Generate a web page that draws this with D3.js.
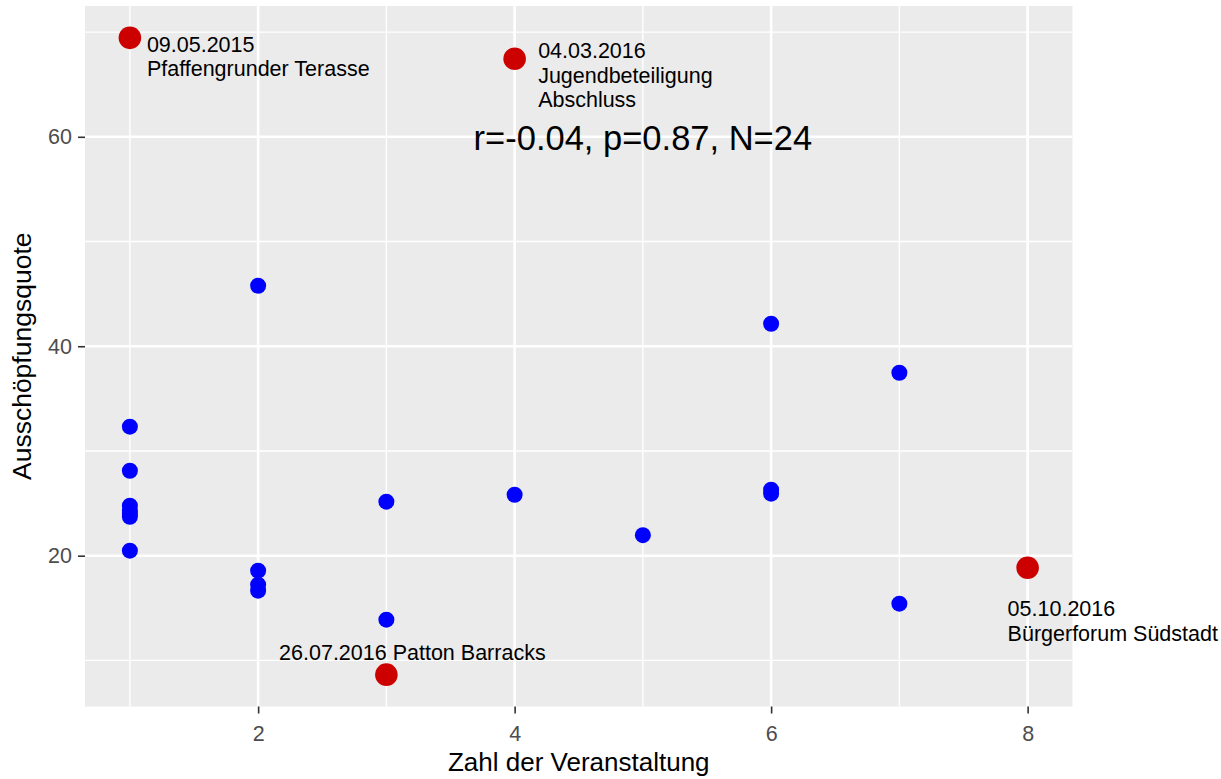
<!DOCTYPE html>
<html>
<head>
<meta charset="utf-8">
<script src="https://cdn.jsdelivr.net/npm/d3@7"></script>
<style>
  html, body { margin: 0; padding: 0; background: #fff; }
  svg { display: block; font-family: "Liberation Sans", Arial, sans-serif; }
</style>
</head>
<body>
<svg id="chart" width="1221" height="779"></svg>
<script>
// ---- data ----
const pointX = [1, 1, 1, 1, 1, 1, 1, 2, 2, 2, 2, 3, 3, 4, 5, 6, 6, 6, 7, 7];
const pointY = [32.32, 28.11, 24.77, 24.30, 24.01, 23.72, 20.48, 45.78, 18.57, 17.23, 16.66,
                25.16, 13.89, 25.82, 21.96, 42.15, 26.30, 25.92, 37.47, 15.42];
const highlightX = [1, 4, 3, 8];
const highlightY = [69.45, 67.45, 8.64, 18.85];
const highlightLabel = [
  ["09.05.2015", "Pfaffengrunder Terasse"],
  ["04.03.2016", "Jugendbeteiligung", "Abschluss"],
  ["26.07.2016 Patton Barracks"],
  ["05.10.2016", "Bürgerforum Südstadt"]
];
const xTickValues = [2, 4, 6, 8];
const yTickValues = [20, 40, 60];
const xMinor = [1, 3, 5, 7];
const yMinor = [10, 30, 50, 70];
const statR = "-0.04", statP = "0.87";
const statPos = [5, 60];
const xTitle = "Zahl der Veranstaltung";
const yTitle = "Ausschöpfungsquote";

// ---- layout ----
const panel = { left: 85, right: 1072.5, top: 6, bottom: 706.5 };
const labelLayout = [
  { dx: 17, dy: 14, anchor: "start" },
  { dx: 23.5, dy: -0.5, anchor: "start" },
  { dx: 26, dy: -15, anchor: "middle" },
  { dx: -20, dy: 48.5, anchor: "start" }
];
const lineGap = 24.3;

const svg = d3.select("#chart");
const allX = pointX.concat(highlightX), allY = pointY.concat(highlightY);
const [x0, x1] = d3.extent(allX), [y0, y1] = d3.extent(allY);
const ex = (x1 - x0) * 0.05, ey = (y1 - y0) * 0.05;
const x = d3.scaleLinear().domain([x0 - ex, x1 + ex]).range([panel.left, panel.right]);
const y = d3.scaleLinear().domain([y0 - ey, y1 + ey]).range([panel.bottom, panel.top]);

// panel background
svg.append("rect").attr("x", panel.left).attr("y", panel.top)
  .attr("width", panel.right - panel.left).attr("height", panel.bottom - panel.top)
  .attr("fill", "#EBEBEB");

const grid = svg.append("g");
grid.selectAll("line.ymin").data(yMinor).join("line")
  .attr("x1", panel.left).attr("x2", panel.right).attr("y1", d => y(d)).attr("y2", d => y(d))
  .attr("stroke", "#fff").attr("stroke-width", 1.4);
grid.selectAll("line.xmin").data(xMinor).join("line")
  .attr("y1", panel.top).attr("y2", panel.bottom).attr("x1", d => x(d)).attr("x2", d => x(d))
  .attr("stroke", "#fff").attr("stroke-width", 1.4);
grid.selectAll("line.ymaj").data(yTickValues).join("line")
  .attr("x1", panel.left).attr("x2", panel.right).attr("y1", d => y(d)).attr("y2", d => y(d))
  .attr("stroke", "#fff").attr("stroke-width", 2.6);
grid.selectAll("line.xmaj").data(xTickValues).join("line")
  .attr("y1", panel.top).attr("y2", panel.bottom).attr("x1", d => x(d)).attr("x2", d => x(d))
  .attr("stroke", "#fff").attr("stroke-width", 2.6);

// axes
const xAxis = svg.append("g").attr("transform", `translate(0,${panel.bottom})`)
  .call(d3.axisBottom(x).tickValues(xTickValues).tickSize(7).tickPadding(3).tickFormat(d3.format("d")));
const yAxis = svg.append("g").attr("transform", `translate(${panel.left},0)`)
  .call(d3.axisLeft(y).tickValues(yTickValues).tickSize(7).tickPadding(6).tickFormat(d3.format("d")));
[xAxis, yAxis].forEach(a => {
  a.select(".domain").remove();
  a.selectAll(".tick line").attr("stroke", "#333").attr("stroke-width", 1.6);
  a.selectAll(".tick text").attr("fill", "#4D4D4D").attr("font-size", 21.5)
    .attr("font-family", "'Liberation Sans', Arial, sans-serif");
});
xAxis.selectAll(".tick text").attr("dy", null).attr("y", 34);

// axis titles
svg.append("text").attr("x", (panel.left + panel.right) / 2).attr("y", 771)
  .attr("text-anchor", "middle").attr("font-size", 26).attr("fill", "#000").text(xTitle);
svg.append("text")
  .attr("transform", `translate(31,${(panel.top + panel.bottom) / 2}) rotate(-90)`)
  .attr("text-anchor", "middle").attr("font-size", 26.5).attr("fill", "#000").text(yTitle);

// points
svg.append("g").selectAll("circle").data(pointX.map((d, i) => [d, pointY[i]])).join("circle")
  .attr("cx", d => x(d[0])).attr("cy", d => y(d[1])).attr("r", 8).attr("fill", "#0000FF");
svg.append("g").selectAll("circle").data(highlightX.map((d, i) => [d, highlightY[i]])).join("circle")
  .attr("cx", d => x(d[0])).attr("cy", d => y(d[1])).attr("r", 11.3).attr("fill", "#CD0000");

// labels
highlightX.forEach((hx, i) => {
  const L = labelLayout[i];
  const t = svg.append("text")
    .attr("x", x(hx) + L.dx).attr("y", y(highlightY[i]) + L.dy)
    .attr("text-anchor", L.anchor).attr("font-size", 21.5).attr("fill", "#000");
  highlightLabel[i].forEach((line, j) => {
    t.append("tspan").attr("x", x(hx) + L.dx).attr("dy", j === 0 ? 0 : lineGap).text(line);
  });
});

// stat text
svg.append("text").attr("x", x(statPos[0])).attr("y", y(statPos[1]) + 13)
  .attr("text-anchor", "middle").attr("font-size", 34.5).attr("fill", "#000")
  .text(`r=${statR}, p=${statP}, N=${allX.length}`);
</script>
</body>
</html>
